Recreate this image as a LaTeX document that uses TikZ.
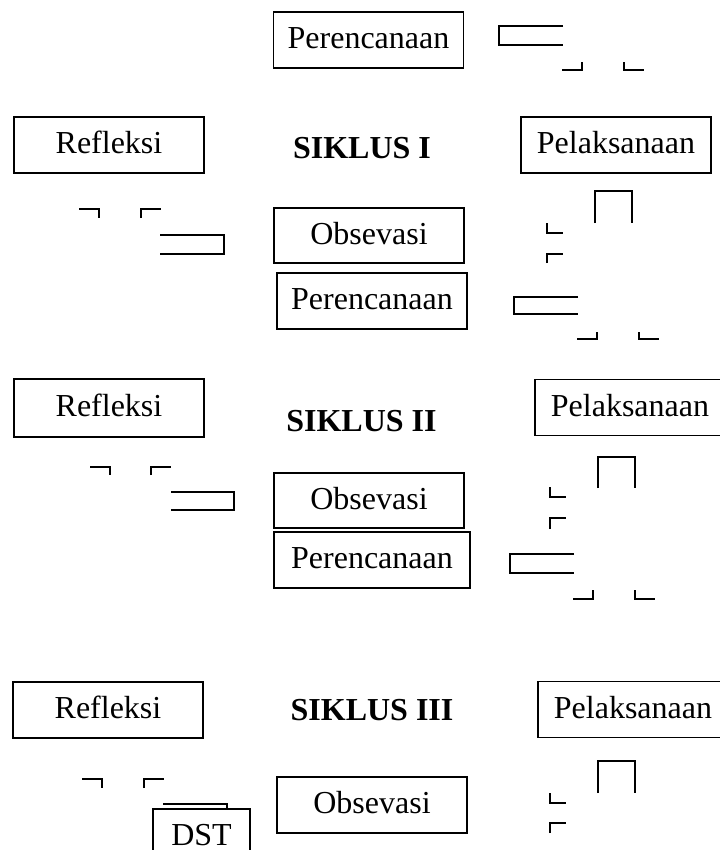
\documentclass[tikz,border=0pt]{standalone}
\usepackage{fontspec}
\setmainfont{Liberation Serif}

\begin{document}
\begin{tikzpicture}[x=0.375pt,y=-0.375pt]
        \tikzstyle{stage}=[rectangle,draw=black,line width=0.7pt,fill=white,inner sep=0pt,minimum width=71.25pt,minimum height=21pt,text height=9.5pt,text depth=3pt,font=\fontsize{12}{14}\selectfont]
        \tikzstyle{siklus}=[anchor=base,inner sep=0pt,font=\fontsize{12}{14}\selectfont\bfseries]
        \tikzstyle{piece}=[draw=black,line width=0.7pt]
       \useasboundingbox (0,0) rectangle (720,850);
       \clip (0,0) rectangle (720,850);

       % siklus I
         \node [stage] (p1) at (368.5,40) {Perencanaan};
         \node [stage] (r1) at (109,145) {Refleksi};
         \node [stage] (l1) at (616,145) {Pelaksanaan};
         \node [stage,minimum height=20.6pt] (o1) at (369,235.5) {Obsevasi};
         \node [siklus] (s1) at (362,158) {SIKLUS I};

         \path[piece] (563,26) -- (499,26) -- (499,45) -- (563,45);
         \path[piece] (562,70) -- (582,70) -- (582,62);
         \path[piece] (624,62) -- (624,70) -- (644,70);
         \path[piece] (595,223) -- (595,191) -- (632,191) -- (632,223);
         \path[piece] (547,223) -- (547,233) -- (563,233);
         \path[piece] (547,263) -- (547,254) -- (563,254);
         \path[piece] (79,209) -- (99,209) -- (99,218);
         \path[piece] (141,218) -- (141,209) -- (161,209);
         \path[piece] (160,235) -- (224,235) -- (224,254) -- (160,254);

       % siklus II
         \node [stage] (p2) at (372,301) {Perencanaan};
         \node [stage,minimum height=21.75pt] (r2) at (109,408) {Refleksi};
         \node [stage] (l2) at (630,407.5) {Pelaksanaan};
         \node [stage,minimum height=20.6pt] (o2) at (369,500.5) {Obsevasi};
         \node [siklus] (s2) at (361.5,431.5) {SIKLUS II};

         \path[piece] (578,297) -- (514,297) -- (514,314) -- (578,314);
         \path[piece] (577,339) -- (597,339) -- (597,332);
         \path[piece] (639,332) -- (639,339) -- (659,339);
         \path[piece] (598,488) -- (598,457) -- (635,457) -- (635,488);
         \path[piece] (550,487) -- (550,497) -- (566,497);
         \path[piece] (550,529) -- (550,518) -- (566,518);
         \path[piece] (90,467) -- (110,467) -- (110,475);
         \path[piece] (151,475) -- (151,467) -- (171,467);
         \path[piece] (171,492) -- (234,492) -- (234,510) -- (171,510);

       % siklus III
         \node [stage,minimum width=73.5pt] (p3) at (372,560) {Perencanaan};
         \node [stage] (r3) at (108,710) {Refleksi};
         \node [stage] (l3) at (633,709.5) {Pelaksanaan};
         \node [stage] (o3) at (372,805) {Obsevasi};
         \node [siklus] (s3) at (372,720) {SIKLUS III};

         \path[piece] (574,554) -- (510,554) -- (510,573) -- (574,573);
         \path[piece] (573,599) -- (593,599) -- (593,590);
         \path[piece] (635,590) -- (635,599) -- (655,599);
         \path[piece] (598,793) -- (598,761) -- (635,761) -- (635,793);
         \path[piece] (550,793) -- (550,803) -- (566,803);
         \path[piece] (550,833) -- (550,823) -- (566,823);
         \path[piece] (82,779) -- (102,779) -- (102,788);
         \path[piece] (144,788) -- (144,779) -- (164,779);
         \path[piece] (163,804) -- (227,804) -- (227,823) -- (163,823);

         \node [stage,minimum width=36.4pt] (dst) at (201.5,837) {DST};
\end{tikzpicture}
\end{document}
